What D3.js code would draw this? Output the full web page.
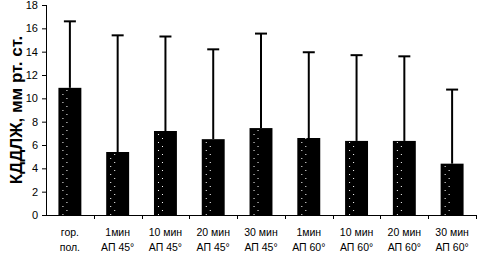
<!DOCTYPE html>
<html>
<head>
<meta charset="utf-8">
<script src="https://cdn.jsdelivr.net/npm/d3@7"></script>
<style>
  body { margin: 0; background: #fff; }
  text { font-family: "Liberation Sans", Arial, sans-serif; }
</style>
</head>
<body>
<div id="chart"></div>
<script>
// data
var line1 = ["гор.", "1мин", "10 мин", "20 мин", "30 мин", "1мин", "10 мин", "20 мин", "30 мин"];
var line2 = ["пол.", "АП 45°", "АП 45°", "АП 45°", "АП 45°", "АП 60°", "АП 60°", "АП 60°", "АП 60°"];
var means = [10.9, 5.4, 7.2, 6.5, 7.45, 6.6, 6.35, 6.35, 4.4];
var upper = [16.6, 15.4, 15.3, 14.2, 15.55, 13.95, 13.7, 13.6, 10.75];
var yTicks = [0, 2, 4, 6, 8, 10, 12, 14, 16, 18];

var W = 478, H = 253;
var margin = {top: 5, right: 2, bottom: 38, left: 46};
var width = W - margin.left - margin.right;
var height = H - margin.top - margin.bottom;

var svg = d3.select("#chart").append("svg")
    .attr("width", W)
    .attr("height", H);

var g = svg.append("g")
    .attr("transform", "translate(" + margin.left + "," + margin.top + ")");

var x = d3.scaleBand()
    .domain(d3.range(means.length))
    .range([0, width])
    .paddingInner(0.52)
    .paddingOuter(0.26);

var y = d3.scaleLinear()
    .domain([0, 18])
    .range([height, 0]);

// dotted fill, one pattern per bar so the dots line up with its left edge
var defs = svg.append("defs");
means.forEach(function(d, i) {
    var p = defs.append("pattern")
        .attr("id", "dots" + i)
        .attr("patternUnits", "userSpaceOnUse")
        .attr("x", x(i))
        .attr("y", 0)
        .attr("width", 40)
        .attr("height", 8);
    p.append("rect").attr("width", 40).attr("height", 8).attr("fill", "#000");
    p.append("rect").attr("x", 4).attr("y", 1).attr("width", 1).attr("height", 1).attr("fill", "#fff");
    p.append("rect").attr("x", 8).attr("y", 5).attr("width", 1).attr("height", 1).attr("fill", "#fff");
});

// error bars (upper only)
var err = g.selectAll(".err")
    .data(means)
    .enter().append("g")
    .attr("class", "err");

err.append("line")
    .attr("x1", function(d, i) { return x(i) + x.bandwidth() / 2; })
    .attr("x2", function(d, i) { return x(i) + x.bandwidth() / 2; })
    .attr("y1", function(d) { return y(d); })
    .attr("y2", function(d, i) { return y(upper[i]); })
    .attr("stroke", "#000")
    .attr("stroke-width", 2);

err.append("line")
    .attr("x1", function(d, i) { return x(i) + x.bandwidth() / 2 - 6; })
    .attr("x2", function(d, i) { return x(i) + x.bandwidth() / 2 + 6; })
    .attr("y1", function(d, i) { return y(upper[i]); })
    .attr("y2", function(d, i) { return y(upper[i]); })
    .attr("stroke", "#000")
    .attr("stroke-width", 2);

g.selectAll(".bar")
    .data(means)
    .enter().append("rect")
    .attr("class", "bar")
    .attr("x", function(d, i) { return x(i); })
    .attr("y", function(d) { return y(d); })
    .attr("width", x.bandwidth())
    .attr("height", function(d) { return height - y(d); })
    .attr("fill", function(d, i) { return "url(#dots" + i + ")"; });

// y axis
var yAxis = d3.axisLeft(y)
    .tickValues(yTicks)
    .tickSize(4)
    .tickPadding(4);

var ya = g.append("g").call(yAxis);
ya.select(".domain").attr("d", "M0.5," + height + "V0");
ya.selectAll("text")
    .style("font-size", "11px")
    .style("font-family", "'Liberation Sans', Arial, sans-serif");

// x axis: baseline plus separators between categories
var xa = g.append("g").attr("transform", "translate(0," + height + ")");
xa.append("line")
    .attr("x1", 0).attr("x2", width)
    .attr("y1", 0.5).attr("y2", 0.5)
    .attr("stroke", "#000");
var step = x.step();
d3.range(1, means.length + 1).forEach(function(i) {
    var sx = Math.round(x(0) - x.paddingOuter() * step + 0 + i * step - (x.paddingInner() * step) / 2 + (x.paddingInner() * step) / 2) + 0.5;
    xa.append("line")
        .attr("x1", sx).attr("x2", sx)
        .attr("y1", 0).attr("y2", 4)
        .attr("stroke", "#000");
});

var labels = xa.selectAll(".xl")
    .data(line1)
    .enter().append("text")
    .attr("class", "xl")
    .attr("text-anchor", "middle")
    .style("font-size", "10.5px");
labels.append("tspan")
    .attr("x", function(d, i) { return x(i) + x.bandwidth() / 2; })
    .attr("y", 21)
    .text(function(d) { return d; });
labels.append("tspan")
    .attr("x", function(d, i) { return x(i) + x.bandwidth() / 2; })
    .attr("y", 36)
    .text(function(d, i) { return line2[i]; });

// y axis title
svg.append("text")
    .attr("transform", "translate(22," + 110 + ") rotate(-90)")
    .attr("text-anchor", "middle")
    .style("font-size", "17px")
    .style("font-weight", "bold")
    .text("КДДЛЖ, мм рт. ст.");
</script>
</body>
</html>
